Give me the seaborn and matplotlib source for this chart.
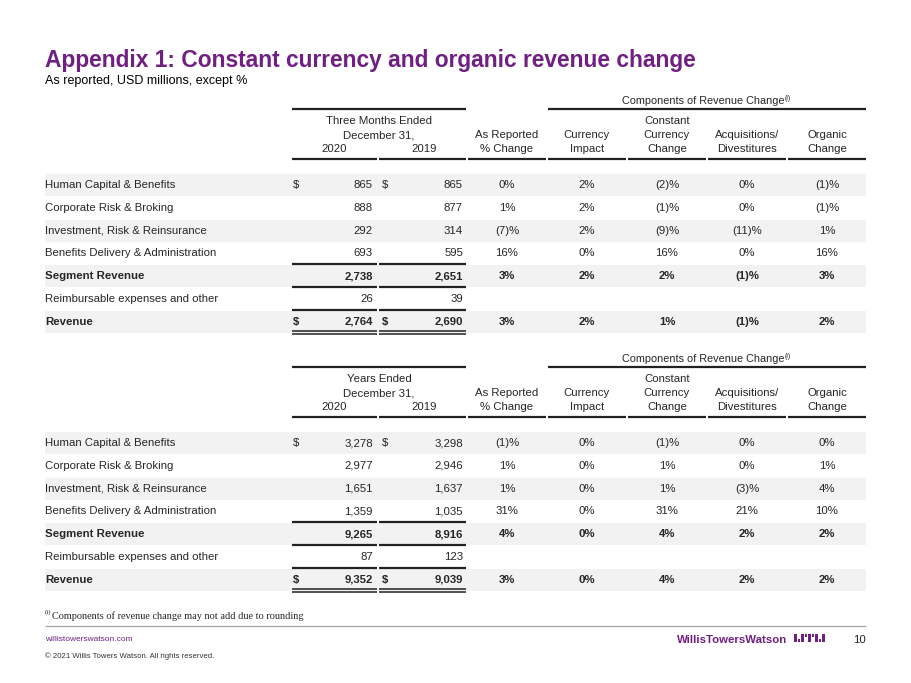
import matplotlib
matplotlib.use("Agg")
import matplotlib.pyplot as plt
from matplotlib.patches import Rectangle
import seaborn as sns

# Data
row_labels = ["Human Capital & Benefits", "Corporate Risk & Broking",
              "Investment, Risk & Reinsurance", "Benefits Delivery & Administration",
              "Segment Revenue", "Reimbursable expenses and other", "Revenue"]
bold_rows = [4, 6]
dollar_rows = [0, 6]

q_2020 = ["865", "888", "292", "693", "2,738", "26", "2,764"]
q_2019 = ["865", "877", "314", "595", "2,651", "39", "2,690"]
q_reported = ["0%", "1%", "(7)%", "16%", "3%", "", "3%"]
q_currency = ["2%", "2%", "2%", "0%", "2%", "", "2%"]
q_constant = ["(2)%", "(1)%", "(9)%", "16%", "2%", "", "1%"]
q_acq = ["0%", "0%", "(11)%", "0%", "(1)%", "", "(1)%"]
q_organic = ["(1)%", "(1)%", "1%", "16%", "3%", "", "2%"]

y_2020 = ["3,278", "2,977", "1,651", "1,359", "9,265", "87", "9,352"]
y_2019 = ["3,298", "2,946", "1,637", "1,035", "8,916", "123", "9,039"]
y_reported = ["(1)%", "1%", "1%", "31%", "4%", "", "3%"]
y_currency = ["0%", "0%", "0%", "0%", "0%", "", "0%"]
y_constant = ["(1)%", "1%", "1%", "31%", "4%", "", "4%"]
y_acq = ["0%", "0%", "(3)%", "21%", "2%", "", "2%"]
y_organic = ["0%", "1%", "4%", "10%", "2%", "", "2%"]

col_headers = [["As Reported", "% Change"], ["Currency", "Impact"],
               ["Constant", "Currency", "Change"], ["Acquisitions/", "Divestitures"],
               ["Organic", "Change"]]

sns.set_theme(style="white")
plt.rcParams["font.family"] = ["Liberation Sans", "DejaVu Sans"]

PURPLE = "#702082"
SHADE = "#f2f2f2"
FS = 8.2

fig = plt.figure(figsize=(9.11, 6.83), dpi=100)
ax = fig.add_axes([0, 0, 1, 1])
ax.set_xlim(0, 911)
ax.set_ylim(683, 0)
ax.axis("off")
renderer = fig.canvas.get_renderer()


def right_edge(t):
    bb = t.get_window_extent(renderer=renderer)
    return ax.transData.inverted().transform((bb.x1, bb.y0))[0]


ax.text(45, 67, "Appendix 1: Constant currency and organic revenue change",
        fontsize=16.4, fontweight="bold", color=PURPLE, va="baseline")
ax.text(45, 84, "As reported, USD millions, except %", fontsize=9, color="black", va="baseline")

# column geometry
num_cols = [(292, 377), (379, 466)]
pct_cols = [(468, 546), (548, 626), (628, 706), (708, 786), (788, 866)]
row_step = 22.8
lw = 1.6


def hline(x0, x1, y, w=lw, c="#222222"):
    ax.plot([x0, x1], [y, y], color=c, lw=w, solid_capstyle="butt")


def draw_table(top, period, v20, v19, pcts):
    # header block
    t = ax.text(703, top - 5, "Components of Revenue Change", fontsize=7.8, ha="center", va="baseline")
    ax.text(right_edge(t) + 0.5, top - 9.5, "(i)", fontsize=5, ha="left", va="baseline")
    hline(548, 866, top)
    hline(292, 466, top)
    ax.text(379, top + 12.5, period, fontsize=FS, ha="center", va="center")
    ax.text(379, top + 26, "December 31,", fontsize=FS, ha="center", va="center")
    ax.text(334, top + 39.5, "2020", fontsize=FS, ha="center", va="center")
    ax.text(424, top + 39.5, "2019", fontsize=FS, ha="center", va="center")
    hbot = top + 50
    for x0, x1 in num_cols + pct_cols:
        hline(x0, x1, hbot)
    for (x0, x1), lines in zip(pct_cols, col_headers):
        for k, tx in enumerate(reversed(lines)):
            ax.text((x0 + x1) / 2, top + 39.5 - 13.5 * k, tx, fontsize=FS, ha="center", va="center")

    # body rows
    r0 = hbot + 26
    for i, lab in enumerate(row_labels):
        yc = r0 + i * row_step
        if i % 2 == 0:
            ax.axhspan(yc - 11, yc + 11, xmin=45 / 911, xmax=866 / 911, color=SHADE, lw=0, zorder=0)
        fw = "bold" if i in bold_rows else "normal"
        ax.text(45, yc, lab, fontsize=FS, fontweight=fw, va="center")
        if i in dollar_rows:
            ax.text(293, yc, "$", fontsize=FS, fontweight=fw, va="center")
            ax.text(382, yc, "$", fontsize=FS, fontweight=fw, va="center")
        ax.text(373, yc, v20[i], fontsize=FS, fontweight=fw, ha="right", va="center")
        ax.text(463, yc, v19[i], fontsize=FS, fontweight=fw, ha="right", va="center")
        for (x0, x1), col in zip(pct_cols, pcts):
            ax.text((x0 + x1) / 2, yc, col[i], fontsize=FS, fontweight=fw, ha="center", va="center")

    # rule lines under number columns
    for x0, x1 in num_cols:
        hline(x0, x1, r0 + 3 * row_step + 10.5)
        hline(x0, x1, r0 + 4 * row_step + 10.5)
        hline(x0, x1, r0 + 5 * row_step + 10.5)
        hline(x0, x1, r0 + 6 * row_step + 9.5, w=1.1)
        hline(x0, x1, r0 + 6 * row_step + 12.5, w=1.1)


draw_table(109, "Three Months Ended", q_2020, q_2019,
           [q_reported, q_currency, q_constant, q_acq, q_organic])
draw_table(367, "Years Ended", y_2020, y_2019,
           [y_reported, y_currency, y_constant, y_acq, y_organic])

# footnote
ax.text(45, 614, "(i)", fontsize=5, family="Liberation Serif", va="baseline")
ax.text(52, 619, "Components of revenue change may not add due to rounding",
        fontsize=7.4, family="Liberation Serif", va="baseline")
hline(45, 866, 626, w=0.9, c="#a6a6a6")

# footer
ax.text(45, 641, "willistowerswatson.com", fontsize=6, color=PURPLE, va="baseline")
ax.text(45, 658, "\u00a9 2021 Willis Towers Watson. All rights reserved.", fontsize=5.6,
        color="#333333", va="baseline")
ax.text(787, 643, "WillisTowersWatson", fontsize=8.2, fontweight="bold", color=PURPLE,
        ha="right", va="baseline")
# small logo mark
bars = [(794, 3, 8, 634), (798, 2, 3, 639), (801, 3, 8, 634), (805, 2, 3, 634),
        (808, 3, 8, 634), (812, 2, 3, 634), (815, 3, 8, 634), (819, 2, 3, 639),
        (822, 3, 8, 634)]
for bx, bw, bh, by in bars:
    ax.add_patch(Rectangle((bx, by), bw, bh, color=PURPLE, lw=0))
ax.text(866, 643, "10", fontsize=8.2, color="#222222", ha="right", va="baseline")

fig.savefig("out.png", dpi=100)
